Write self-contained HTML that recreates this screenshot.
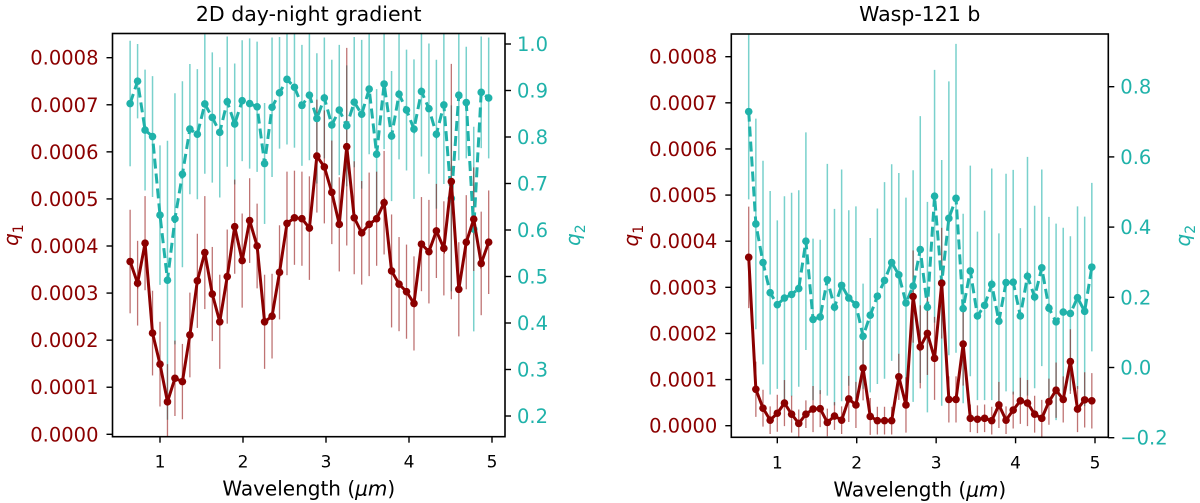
<!DOCTYPE html>
<html><head><meta charset="utf-8"><style>
body{margin:0;background:#fff;}
svg{display:block;font-family:"DejaVu Sans","Liberation Sans",sans-serif;}
</style></head><body>
<svg id="chart" width="1200" height="503" viewBox="0 0 1200 503" xmlns="http://www.w3.org/2000/svg"></svg>
<script>
const wavelength = [0.64,0.73,0.82,0.91,1.00,1.09,1.18,1.27,1.36,1.45,1.54,1.63,1.72,1.81,1.90,1.99,2.08,2.17,2.26,2.35,2.44,2.53,2.62,2.71,2.80,2.89,2.98,3.07,3.16,3.25,3.34,3.43,3.52,3.61,3.70,3.79,3.88,3.97,4.06,4.15,4.24,4.33,4.42,4.51,4.60,4.69,4.78,4.87,4.96];
// left panel (units of 1e-4 for q1)
const leftQ1 = [3.67,3.21,4.06,2.15,1.49,0.69,1.19,1.12,2.11,3.26,3.86,2.98,2.39,3.35,4.41,3.69,4.54,4.00,2.39,2.51,3.44,4.48,4.60,4.58,4.38,5.91,5.68,5.14,4.46,6.11,4.60,4.28,4.46,4.58,4.92,3.47,3.19,3.03,2.78,4.04,3.88,4.32,3.95,5.37,3.08,4.08,4.57,3.63,4.08];
const leftQ1Err = [1.1,0.9,1.0,0.9,0.9,0.8,0.8,0.8,0.9,1.0,1.2,1.0,1.0,1.0,1.0,1.0,0.9,0.9,1.0,0.9,1.0,1.1,1.0,1.0,1.1,1.2,1.2,1.1,1.0,2.1,1.2,1.1,1.1,1.0,1.1,1.2,1.0,1.0,1.0,1.0,1.1,1.0,1.0,2.5,1.0,1.0,1.1,1.1,1.1];
const leftQ2 = [0.872,0.920,0.815,0.801,0.632,0.492,0.624,0.720,0.817,0.806,0.871,0.842,0.810,0.876,0.828,0.878,0.872,0.865,0.743,0.864,0.895,0.924,0.907,0.868,0.890,0.840,0.884,0.826,0.858,0.824,0.875,0.849,0.903,0.763,0.914,0.802,0.892,0.858,0.817,0.898,0.861,0.806,0.869,0.668,0.890,0.874,0.602,0.896,0.884];
const leftQ2Err = [0.135,0.08,0.13,0.13,0.15,0.30,0.27,0.20,0.14,0.14,0.15,0.14,0.14,0.14,0.13,0.13,0.14,0.14,0.13,0.15,0.12,0.14,0.13,0.13,0.14,0.14,0.13,0.14,0.14,0.13,0.14,0.16,0.14,0.14,0.14,0.14,0.14,0.13,0.15,0.14,0.14,0.16,0.17,0.20,0.14,0.12,0.22,0.12,0.13];
// right panel
const rightQ1 = [3.65,0.79,0.38,0.12,0.27,0.49,0.25,0.05,0.25,0.36,0.37,0.07,0.21,0.12,0.58,0.45,1.25,0.20,0.11,0.11,0.11,1.06,0.45,2.80,1.71,2.00,1.46,3.09,0.57,0.57,1.77,0.16,0.14,0.16,0.11,0.45,0.12,0.34,0.54,0.49,0.25,0.16,0.52,0.77,0.57,1.39,0.36,0.56,0.54];
const rightQ1Err = [1.1,0.6,0.4,0.3,0.4,0.5,0.4,0.3,0.3,0.5,0.4,0.3,0.3,0.3,0.5,0.5,0.7,0.4,0.3,0.3,0.3,0.5,0.6,1.0,0.9,0.9,0.9,1.2,0.5,0.5,0.9,0.3,0.3,0.3,0.3,0.5,0.3,0.4,0.5,0.5,0.4,0.4,0.5,0.6,0.5,0.7,0.5,0.6,0.6];
const rightQ2 = [0.729,0.409,0.299,0.213,0.179,0.198,0.208,0.225,0.360,0.137,0.144,0.250,0.172,0.234,0.198,0.179,0.089,0.149,0.203,0.248,0.299,0.264,0.184,0.232,0.336,0.172,0.488,0.241,0.425,0.482,0.168,0.275,0.147,0.177,0.237,0.132,0.242,0.243,0.147,0.260,0.201,0.284,0.169,0.130,0.158,0.154,0.199,0.160,0.286];
const rightQ2Err = [0.25,0.3,0.29,0.29,0.24,0.29,0.29,0.28,0.31,0.23,0.22,0.33,0.28,0.33,0.25,0.28,0.15,0.22,0.25,0.28,0.28,0.29,0.30,0.33,0.38,0.30,0.36,0.35,0.39,0.44,0.27,0.30,0.24,0.27,0.33,0.25,0.31,0.32,0.25,0.34,0.26,0.28,0.26,0.28,0.24,0.22,0.26,0.27,0.24];
const xTicks = [1,2,3,4,5];
const leftQ1Ticks = [0,1,2,3,4,5,6,7,8];
const leftQ2Ticks = [0.2,0.3,0.4,0.5,0.6,0.7,0.8,0.9,1.0];
const rightQ1Ticks = [0,1,2,3,4,5,6,7,8];
const rightQ2Ticks = [-0.2,0.0,0.2,0.4,0.6,0.8];

const NS = "http://www.w3.org/2000/svg";
const svg = document.getElementById('chart');
const RED = "#8b0000", TEAL = "#20b2aa";
function mk(tag, attrs, parent){const e=document.createElementNS(NS,tag);for(const k in attrs)e.setAttribute(k,attrs[k]);(parent||svg).appendChild(e);return e;}
function lin(d0,d1,r0,r1){return v=>r0+(v-d0)*(r1-r0)/(d1-d0);}

function panel(cfg){
  const g = mk('g',{});
  
  
  const X = lin(1,5,cfg.x1,cfg.x5);
  const Y1 = lin(0,8,cfg.y1a,cfg.y1b);
  const Y2 = lin(cfg.q2a,cfg.q2b,cfg.y2a,cfg.y2b);
  const L=cfg.L,R=cfg.R,T=cfg.T,B=cfg.B;
  const clip = mk('clipPath',{id:cfg.name+'-clip'},g);
  mk('rect',{x:L,y:T,width:R-L,height:B-T},clip);
  const plot = mk('g',{'clip-path':'url(#'+cfg.name+'-clip)'},g);
  const eb2 = mk('g',{},plot);
  
  
  cfg.q2.forEach((v,i)=>{
    const l=mk('line',{x1:X(wavelength[i]),x2:X(wavelength[i]),y1:Y2(v-cfg.q2e[i]),y2:Y2(v+cfg.q2e[i]),stroke:TEAL,'stroke-opacity':0.6,'stroke-width':1.5},eb2);
    
    
  });
  const eb1 = mk('g',{},plot);
  
  
  cfg.q1.forEach((v,i)=>{
    const l=mk('line',{x1:X(wavelength[i]),x2:X(wavelength[i]),y1:Y1(v-cfg.q1e[i]),y2:Y1(v+cfg.q1e[i]),stroke:RED,'stroke-opacity':0.55,'stroke-width':1.3},eb1);
    
    
  });
  const p2 = mk('polyline',{points:cfg.q2.map((v,i)=>X(wavelength[i])+','+Y2(v)).join(' '),fill:'none',stroke:TEAL,'stroke-width':3,'stroke-dasharray':'10,5'},plot);
  
  
  cfg.q2.forEach((v,i)=>{
    const c=mk('circle',{cx:X(wavelength[i]),cy:Y2(v),r:3.8,fill:TEAL},plot);
    
    
  });
  const p1 = mk('polyline',{points:cfg.q1.map((v,i)=>X(wavelength[i])+','+Y1(v)).join(' '),fill:'none',stroke:RED,'stroke-width':3},plot);
  
  
  cfg.q1.forEach((v,i)=>{
    const c=mk('circle',{cx:X(wavelength[i]),cy:Y1(v),r:3.8,fill:RED},plot);
    
    
  });
  const fr = mk('rect',{x:L,y:T,width:R-L,height:B-T,fill:'none',stroke:'#000','stroke-width':1.6},g);
  
  
  xTicks.forEach(t=>{
    mk('line',{x1:X(t),x2:X(t),y1:B,y2:B+6,stroke:'#000','stroke-width':1.4},g);
    const tx=mk('text',{x:X(t),y:B+31,'text-anchor':'middle','font-size':17,fill:'#000'},g);
    tx.textContent=t;
    
    
  });
  const xl=mk('text',{x:(L+R)/2,y:B+59,'text-anchor':'middle','font-size':20,fill:'#000'},g);
  xl.innerHTML='Wavelength (<tspan font-style="italic">μm</tspan>)';
  
  
  cfg.q1t.forEach(t=>{
    mk('line',{x1:L-6,x2:L,y1:Y1(t),y2:Y1(t),stroke:'#000','stroke-width':1.4},g);
    const tx=mk('text',{x:L-14,y:Y1(t)+7,'text-anchor':'end','font-size':19.5,fill:RED},g);
    tx.textContent=(t/10000).toFixed(4);
    
    
  });
  cfg.q2t.forEach(t=>{
    mk('line',{x1:R,x2:R+6,y1:Y2(t),y2:Y2(t),stroke:'#000','stroke-width':1.4},g);
    const tx=mk('text',{x:R+12,y:Y2(t)+7,'text-anchor':'start','font-size':19.5,fill:TEAL},g);
    tx.textContent=(t<0?'\u2212':'')+Math.abs(t).toFixed(1);
    
    
  });
  const yl1=mk('text',{x:0,y:0,'text-anchor':'middle','font-size':20,fill:RED,transform:'translate('+cfg.q1x+','+((T+B)/2)+') rotate(-90)'},g);
  yl1.innerHTML='<tspan font-style="italic">q</tspan><tspan font-size="14" dy="5">1</tspan>';
  
  
  const yl2=mk('text',{x:0,y:0,'text-anchor':'middle','font-size':20,fill:TEAL,transform:'translate('+cfg.q2x+','+((T+B)/2)+') rotate(-90)'},g);
  yl2.innerHTML='<tspan font-style="italic">q</tspan><tspan font-size="14" dy="5">2</tspan>';
  
  
  const ti=mk('text',{x:(L+R)/2,y:21,'text-anchor':'middle','font-size':20.5,fill:'#000'},g);
  ti.textContent=cfg.title;
  
  
}

panel({name:'left-panel',title:'2D day-night gradient',L:112.5,R:505,T:33.5,B:436.7,x1:160,x5:492,
  y1a:434.3,y1b:57.7,q2a:0.2,q2b:1.0,y2a:416,y2b:44,q1:leftQ1,q1e:leftQ1Err,q2:leftQ2,q2e:leftQ2Err,
  q1t:leftQ1Ticks,q2t:leftQ2Ticks,q1x:18,q2x:580});
panel({name:'right-panel',title:'Wasp-121 b',L:731.3,R:1108.3,T:34,B:437.3,x1:777.3,x5:1095,
  y1a:425.7,y1b:56.7,q2a:-0.2,q2b:0.8,y2a:437.7,y2b:86.7,q1:rightQ1,q1e:rightQ1Err,q2:rightQ2,q2e:rightQ2Err,
  q1t:rightQ1Ticks,q2t:rightQ2Ticks,q1x:638,q2x:1190});
</script>
</body></html>
